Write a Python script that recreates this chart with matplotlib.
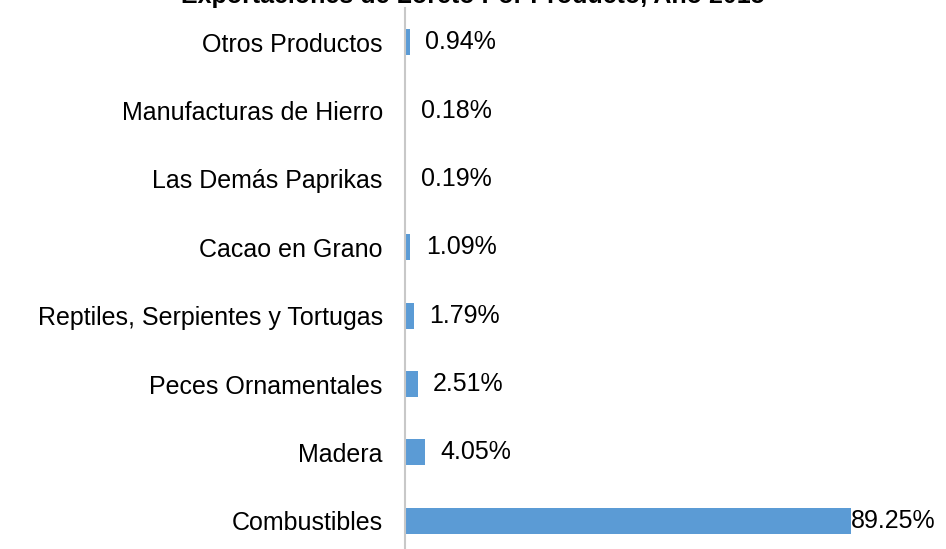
import matplotlib
matplotlib.use('agg')
from matplotlib import pyplot as plt

# data, bottom to top as drawn
productos = ['Combustibles', 'Madera', 'Peces Ornamentales',
             'Reptiles, Serpientes y Tortugas', 'Cacao en Grano',
             'Las Demás Paprikas', 'Manufacturas de Hierro', 'Otros Productos']
porcentajes = [89.25, 4.05, 2.51, 1.79, 1.09, 0.19, 0.18, 0.94]
etiquetas = ['89.25%', '4.05%', '2.51%', '1.79%', '1.09%', '0.19%', '0.18%', '0.94%']
titulo = 'Exportaciones de Loreto Por Producto, Año 2015'

plt.rcParams['font.family'] = ['Liberation Sans', 'DejaVu Sans']

W, H = 946, 549
f = plt.figure(figsize=(W / 100, H / 100), dpi=100)
ax = f.add_axes([405 / W, 1 - 555 / H, 500 / W, 547 / H])

pos = list(range(len(productos)))
ax.barh(pos, porcentajes, height=0.38, color='#5B9BD5')
ax.set_xlim(0, 100)
ax.set_ylim(-0.5, len(productos) - 0.5)
ax.set_yticks(pos)
ax.set_yticklabels(productos, fontsize=18)
ax.tick_params(axis='y', length=0, pad=16)
ax.set_xticks([])
for s in ['top', 'right', 'bottom']:
    ax.spines[s].set_visible(False)
ax.spines['left'].set_color('#C8C8C8')
ax.spines['left'].set_linewidth(1.5)

vmax = max(porcentajes)
for y, v, t in zip(pos, porcentajes, etiquetas):
    off = 0 if v == vmax else 11
    ax.annotate(t, (v, y), xytext=(off, 0), textcoords='offset points',
                va='center', ha='left', fontsize=18)

# title sits mostly above the visible area, as in the original crop
f.text(0.5, 1 + 4 / H, titulo, ha='center', va='center',
       fontsize=18, weight='bold')

f.savefig('out.png', dpi=100)
